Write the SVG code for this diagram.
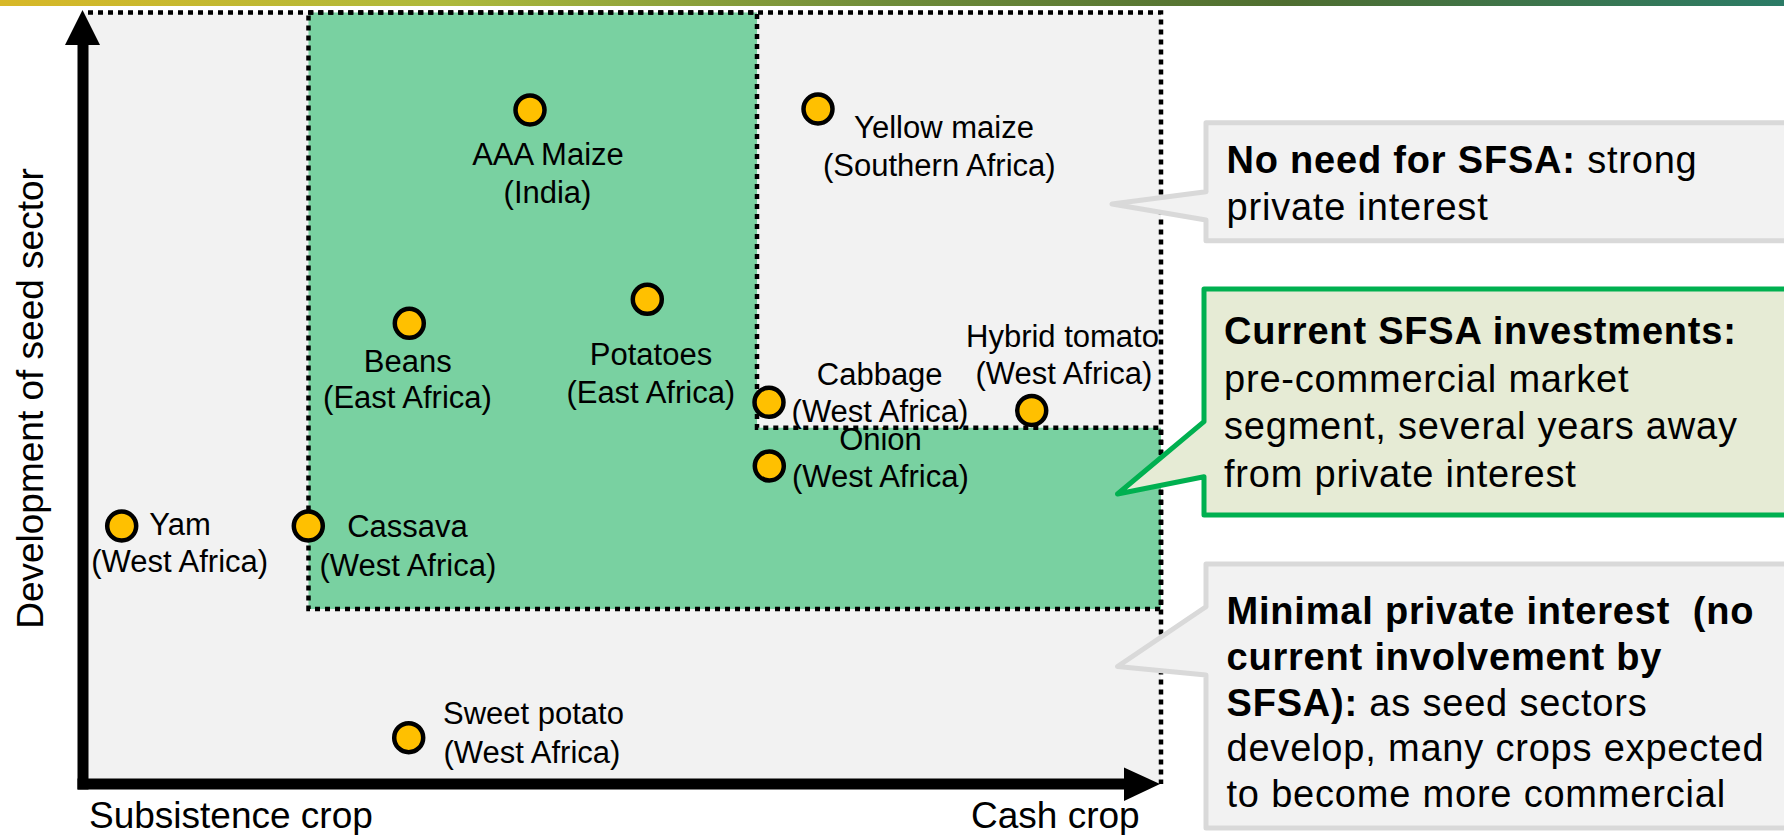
<svg xmlns="http://www.w3.org/2000/svg" width="1784" height="835" viewBox="0 0 1784 835">
<defs>
<linearGradient id="topbar" x1="0" y1="0" x2="1" y2="0">
<stop offset="0" stop-color="#D8B828"/>
<stop offset="0.25" stop-color="#AEB93C"/>
<stop offset="0.5" stop-color="#6F8C3A"/>
<stop offset="0.72" stop-color="#4F6E30"/>
<stop offset="1" stop-color="#2B7B66"/>
</linearGradient>
<style>
.lbl{font-family:"Liberation Sans",Arial,sans-serif;font-size:31px;fill:#000}
.mid{text-anchor:middle}
.ax{font-family:"Liberation Sans",Arial,sans-serif;font-size:37px;fill:#000}
.co{font-family:"Liberation Sans",Arial,sans-serif;font-size:38px;fill:#000;letter-spacing:0.8px}
.b{font-weight:bold}
.dot{fill:none;stroke:#000;stroke-width:4.5;stroke-dasharray:5 5}
.pt{fill:#FFC000;stroke:#000;stroke-width:4.5}
.cg{fill:#F2F2F2;stroke:#D9D9D9;stroke-width:5;stroke-linejoin:round}
.cgr{fill:#E6EBD5;stroke:#00B050;stroke-width:5;stroke-linejoin:round}
</style>
</defs>
<rect x="0" y="0" width="1784" height="6" fill="url(#topbar)"/>
<g id="regions">
<rect x="83" y="12.5" width="1078" height="771.5" fill="#F2F2F2"/>
<polygon points="308.5,12.5 757,12.5 757,427.7 1161,427.7 1161,609 308.5,609" fill="#79D1A1"/>
</g>
<g id="labels">
<g id="aaa-maize">
<text class="lbl mid" x="548" y="165">AAA Maize</text>
<text class="lbl mid" x="547.5" y="202.7">(India)</text>
</g>
<g id="yellow-maize">
<text class="lbl mid" x="944" y="138.3">Yellow maize</text>
<text class="lbl mid" x="939.3" y="176">(Southern Africa)</text>
</g>
<g id="beans">
<text class="lbl mid" x="407.7" y="371.7">Beans</text>
<text class="lbl mid" x="407.5" y="408.3">(East Africa)</text>
</g>
<g id="potatoes">
<text class="lbl mid" x="651" y="365">Potatoes</text>
<text class="lbl mid" x="650.8" y="403.3">(East Africa)</text>
</g>
<g id="cabbage">
<text class="lbl mid" x="879.7" y="385">Cabbage</text>
<text class="lbl mid" x="880" y="421.7">(West Africa)</text>
</g>
<g id="hybrid-tomato">
<text class="lbl" x="966" y="347.3">Hybrid tomato</text>
<text class="lbl mid" x="1063.8" y="384">(West Africa)</text>
</g>
<g id="onion">
<text class="lbl mid" x="880.5" y="450">Onion</text>
<text class="lbl mid" x="880.3" y="487.3">(West Africa)</text>
</g>
<g id="yam">
<text class="lbl" x="149.3" y="535">Yam</text>
<text class="lbl mid" x="179.7" y="571.7">(West Africa)</text>
</g>
<g id="cassava">
<text class="lbl mid" x="407.5" y="537.3">Cassava</text>
<text class="lbl mid" x="407.8" y="576">(West Africa)</text>
</g>
<g id="sweet-potato">
<text class="lbl" x="443" y="724">Sweet potato</text>
<text class="lbl" x="443.5" y="762.7">(West Africa)</text>
</g>
</g>
<g id="outlines">
<polyline class="dot" points="88,12.5 1161,12.5 1161,784"/>
<polygon class="dot" points="308.5,12.5 757,12.5 757,427.7 1161,427.7 1161,609 308.5,609"/>
</g>
<g id="points">
<circle class="pt" cx="530" cy="110" r="14.5"/>
<circle class="pt" cx="818" cy="109" r="14.5"/>
<circle class="pt" cx="409.3" cy="323.3" r="14.5"/>
<circle class="pt" cx="647.3" cy="299.3" r="14.5"/>
<circle class="pt" cx="769" cy="402.3" r="14.5"/>
<circle class="pt" cx="1031.7" cy="410.5" r="14.5"/>
<circle class="pt" cx="769.3" cy="466" r="14.5"/>
<circle class="pt" cx="121.7" cy="526" r="14.5"/>
<circle class="pt" cx="308.3" cy="526" r="14.5"/>
<circle class="pt" cx="408.7" cy="737.7" r="14.5"/>
</g>
<g id="axes">
<rect x="77.5" y="44" width="11" height="745.5" fill="#000"/>
<rect x="77.5" y="778.5" width="1047" height="11" fill="#000"/>
<polygon points="82.5,10 100,45 65,45" fill="#000"/>
<polygon points="1160,784 1124,767.5 1124,801" fill="#000"/>
<text class="ax" x="89" y="828">Subsistence crop</text>
<text class="ax" x="971" y="828">Cash crop</text>
<text class="ax mid" transform="translate(43,398.5) rotate(-90)">Development of seed sector</text>
</g>
<g id="callout-no-need">
<path class="cg" d="M1206,122.7 H1792 V240.7 H1206 V220 L1112,204 L1206,191.7 Z"/>
<text class="co" x="1226.5" y="172.7"><tspan class="b">No need for SFSA:</tspan> strong</text>
<text class="co" x="1226.5" y="220">private interest</text>
</g>
<g id="callout-current">
<path class="cgr" d="M1204,289 H1792 V515 H1204 V476.7 L1117.5,494 L1204,421.7 Z"/>
<text class="co b" x="1224" y="344">Current SFSA investments:</text>
<text class="co" x="1224" y="391.7">pre-commercial market</text>
<text class="co" x="1224" y="439.4">segment, several years away</text>
<text class="co" x="1224" y="487">from private interest</text>
</g>
<g id="callout-minimal">
<path class="cg" d="M1206,564 H1792 V828 H1206 V675 L1117.5,666.5 L1206,606.7 Z"/>
<text class="co b" x="1226.5" y="624.3" xml:space="preserve">Minimal private interest  (no</text>
<text class="co b" x="1226.5" y="669.9">current involvement by</text>
<text class="co" x="1226.5" y="715.5"><tspan class="b">SFSA):</tspan> as seed sectors</text>
<text class="co" x="1226.5" y="761.1">develop, many crops expected</text>
<text class="co" x="1226.5" y="806.7">to become more commercial</text>
</g>
</svg>
